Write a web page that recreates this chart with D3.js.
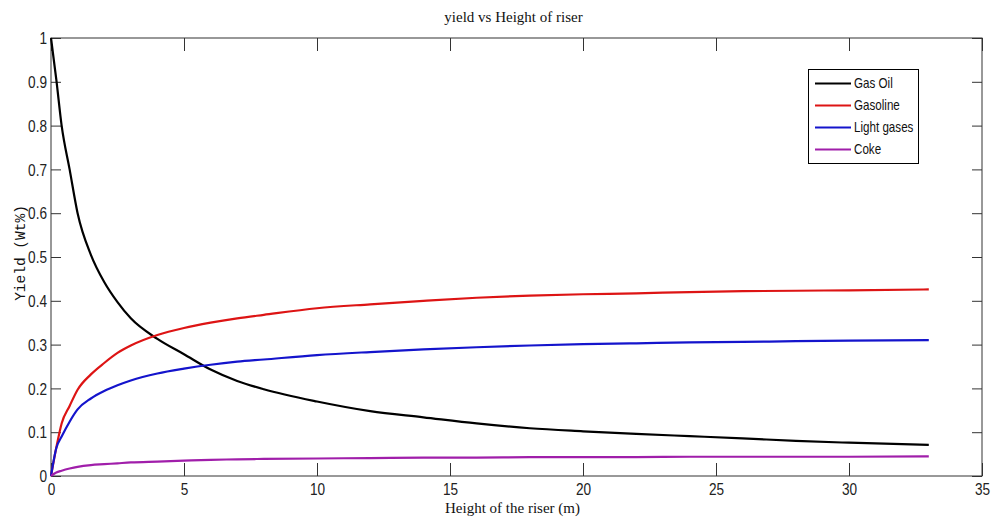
<!DOCTYPE html>
<html>
<head>
<meta charset="utf-8">
<script src="https://cdn.jsdelivr.net/npm/d3@7"></script>
<style>
  html, body { margin: 0; padding: 0; background: #fff; }
  svg { display: block; }
</style>
</head>
<body>
<svg id="chart" width="991" height="527"></svg>
<script>
// ---- data ----
const heights = [0, 0.2, 0.4, 0.7, 1, 1.5, 2, 2.5, 3, 4, 5, 6, 7, 8, 10, 12, 14, 16, 18, 20, 22, 24, 26, 28, 30, 33];
const gasOil   = [1.0, 0.905, 0.80, 0.70, 0.60, 0.505, 0.443, 0.397, 0.36, 0.313, 0.278, 0.243, 0.217, 0.198, 0.170, 0.148, 0.134, 0.120, 0.109, 0.102, 0.096, 0.091, 0.086, 0.080, 0.076, 0.071];
const gasoline = [0, 0.065, 0.12, 0.16, 0.197, 0.232, 0.258, 0.281, 0.298, 0.322, 0.338, 0.350, 0.360, 0.368, 0.383, 0.392, 0.400, 0.407, 0.412, 0.415, 0.417, 0.420, 0.422, 0.423, 0.424, 0.426];
const lightGases = [0, 0.064, 0.09, 0.124, 0.152, 0.177, 0.194, 0.207, 0.218, 0.234, 0.245, 0.254, 0.261, 0.266, 0.276, 0.283, 0.289, 0.294, 0.298, 0.301, 0.303, 0.305, 0.306, 0.308, 0.309, 0.310];
const coke     = [0, 0.008, 0.012, 0.017, 0.021, 0.025, 0.027, 0.029, 0.031, 0.033, 0.035, 0.037, 0.038, 0.039, 0.040, 0.041, 0.042, 0.042, 0.043, 0.043, 0.043, 0.044, 0.044, 0.044, 0.044, 0.045];
const seriesNames = ["Gas Oil", "Gasoline", "Light gases", "Coke"];
const xTicks = [0, 5, 10, 15, 20, 25, 30, 35];
const yTicks = [0, 0.1, 0.2, 0.3, 0.4, 0.5, 0.6, 0.7, 0.8, 0.9, 1];
const titleText = "yield vs Height of riser";
const xLabelText = "Height of the riser (m)";
const yLabelText = "Yield (Wt%)";

// ---- layout ----
const svg = d3.select("#chart");
const L = 51, R = 982, T = 38, B = 476;
const x = d3.scaleLinear().domain([0, 35]).range([L, R]);
const y = d3.scaleLinear().domain([0, 1]).range([B, T]);
const colors = ["#000000", "#dd1414", "#1414cc", "#a01eaa"];
const seriesValues = [gasOil, gasoline, lightGases, coke];
const axisColor = "#333";
const sx = 0.85;

svg.append("rect").attr("x", L).attr("y", T).attr("width", R - L).attr("height", B - T)
  .attr("fill", "#fff");

// axes
const gx = svg.append("g").attr("transform", `translate(0,${B})`)
  .call(d3.axisBottom(x).tickValues(xTicks).tickSize(-13).tickPadding(0).tickFormat(d3.format("d")));
const gxt = svg.append("g").attr("transform", `translate(0,${T})`)
  .call(d3.axisTop(x).tickValues(xTicks).tickSize(-13).tickFormat(""));
const gy = svg.append("g").attr("transform", `translate(${L},0)`)
  .call(d3.axisLeft(y).tickValues(yTicks).tickSize(-10).tickFormat(d3.format("")));
const gyr = svg.append("g").attr("transform", `translate(${R},0)`)
  .call(d3.axisRight(y).tickValues(yTicks).tickSize(-10).tickFormat(""));

[gx, gxt, gy, gyr].forEach(g => {
  g.select(".domain").remove();
  g.selectAll(".tick line").attr("stroke", axisColor).attr("stroke-width", 1);
});

gx.selectAll(".tick text")
  .attr("font-family", "Liberation Sans, Arial, sans-serif")
  .attr("font-size", 16).attr("fill", "#222")
  .attr("dy", null).attr("y", 19)
  .attr("transform", `scale(${sx},1)`);
gy.selectAll(".tick text")
  .attr("font-family", "Liberation Sans, Arial, sans-serif")
  .attr("font-size", 16).attr("fill", "#222")
  .attr("x", -4 / sx).attr("dy", "0.35em")
  .attr("transform", `scale(${sx},1)`);

// box
svg.append("rect").attr("x", L).attr("y", T).attr("width", R - L).attr("height", B - T)
  .attr("fill", "none").attr("stroke", axisColor).attr("stroke-width", 1);

// lines
const line = d3.line().x(d => x(d[0])).y(d => y(d[1])).curve(d3.curveMonotoneX);
seriesValues.forEach((vals, i) => {
  svg.append("path")
    .datum(heights.map((h, j) => [h, vals[j]]))
    .attr("fill", "none")
    .attr("stroke", colors[i])
    .attr("stroke-width", 2.2)
    .attr("stroke-linejoin", "round")
    .attr("d", line);
});

// title and labels
svg.append("text").attr("x", (L + R) / 2 - 3).attr("y", 22)
  .attr("text-anchor", "middle")
  .attr("font-family", "Liberation Serif, Times New Roman, serif")
  .attr("font-size", 15).attr("fill", "#111")
  .text(titleText);
svg.append("text").attr("x", (L + R) / 2 - 4).attr("y", 513)
  .attr("text-anchor", "middle")
  .attr("font-family", "Liberation Serif, Times New Roman, serif")
  .attr("font-size", 15).attr("fill", "#111")
  .text(xLabelText);
svg.append("text")
  .attr("transform", `translate(25,253) rotate(-90)`)
  .attr("text-anchor", "middle")
  .attr("font-family", "Liberation Mono, Courier New, monospace")
  .attr("font-size", 14.5).attr("fill", "#111")
  .text(yLabelText);

// legend
const lg = svg.append("g");
lg.append("rect").attr("x", 808.5).attr("y", 69.5).attr("width", 110).attr("height", 94)
  .attr("fill", "#fff").attr("stroke", "#000").attr("stroke-width", 1);
seriesNames.forEach((name, i) => {
  const cy = 83.5 + i * 22;
  lg.append("line").attr("x1", 815).attr("x2", 851).attr("y1", cy).attr("y2", cy)
    .attr("stroke", colors[i]).attr("stroke-width", 2);
  lg.append("text").attr("x", 854 / 0.83).attr("y", cy + 5)
    .attr("transform", `scale(0.83,1)`)
    .attr("font-family", "Liberation Sans, Arial, sans-serif")
    .attr("font-size", 14).attr("fill", "#111")
    .text(name);
});
</script>
</body>
</html>
